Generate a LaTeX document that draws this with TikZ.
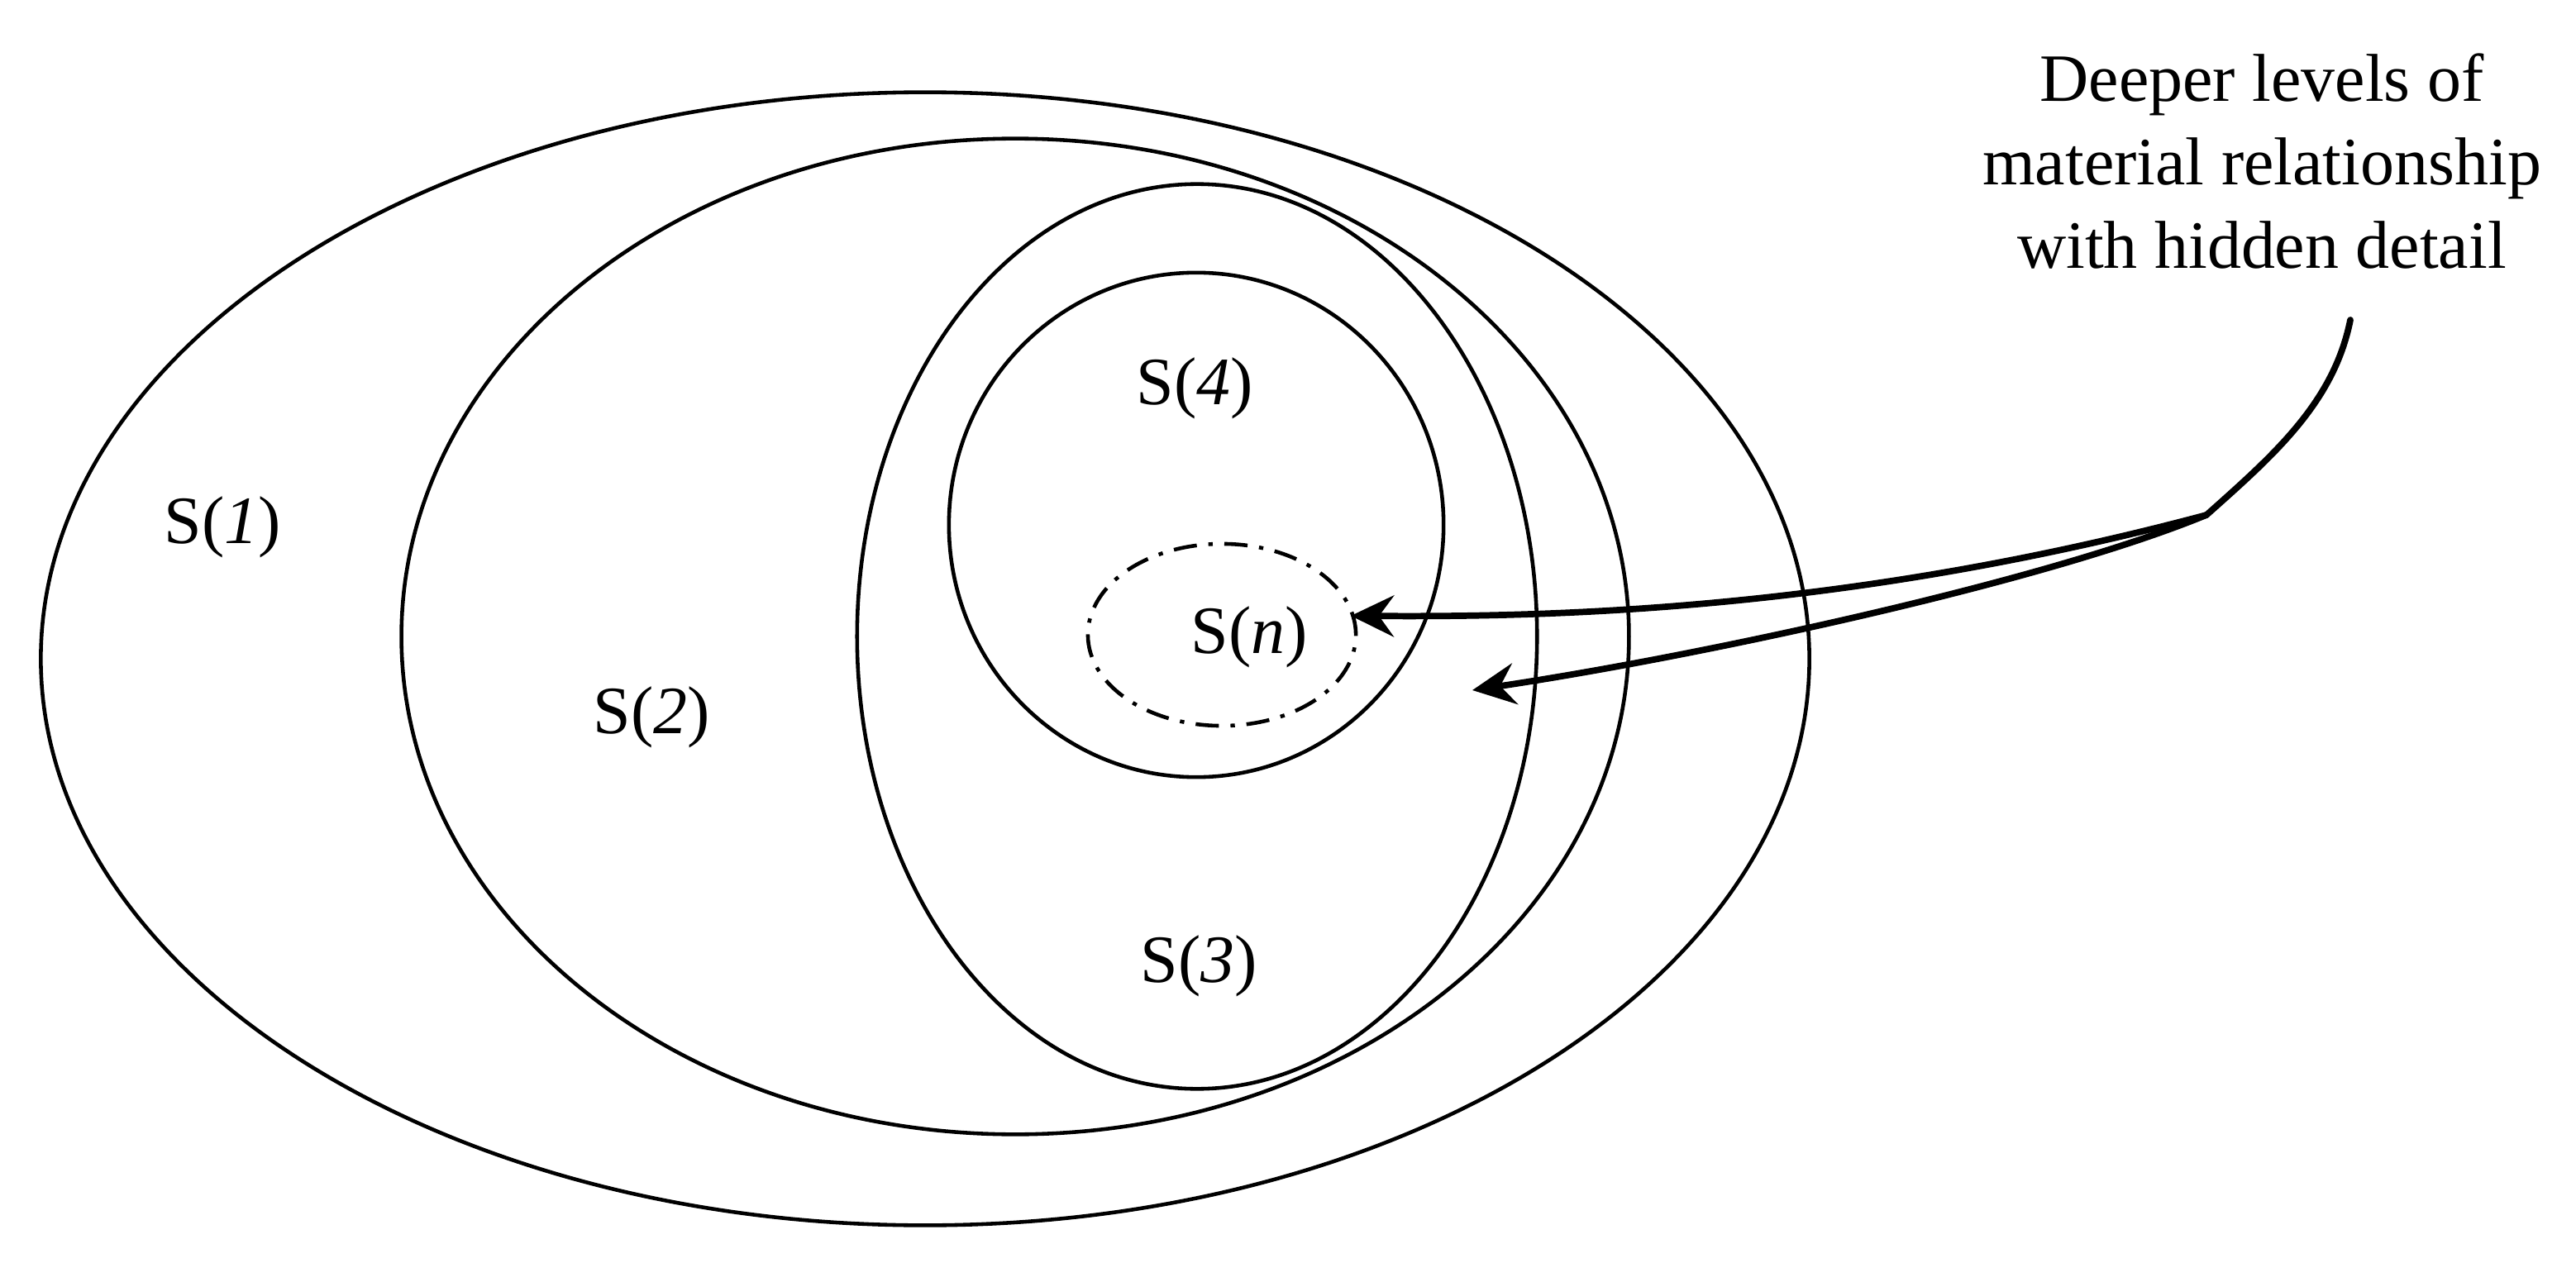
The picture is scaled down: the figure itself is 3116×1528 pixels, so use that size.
\documentclass[tikz,border=0pt]{standalone}
\usepackage{fontspec}
\setmainfont{Liberation Serif}
\newfontfamily\timesface{Liberation Serif}
\usetikzlibrary{arrows.meta}
\begin{document}
\begin{tikzpicture}[x=0.01cm,y=-0.01cm,
  setline/.style={line width=1.3pt},
  hiddenline/.style={line width=1.3pt, dash pattern=on 8pt off 4pt on 1.5pt off 4pt},
  lbl/.style={font=\timesface\fontsize{23.3}{28.7}\selectfont, inner sep=0pt, anchor=base},
  pointer/.style={line width=2.2pt, line cap=round},
  tipped/.style={-{Stealth[length=0.52cm,width=0.5cm,inset=0.18cm]}}
]
\useasboundingbox (0,0) rectangle (3116,1528);
% nested sets
\draw[setline] (1119,797) ellipse [x radius=10.69cm, y radius=6.85cm];
\draw[setline] (1228,770) ellipse [x radius=7.42cm, y radius=6.02cm];
\draw[setline] (1448,770) ellipse [x radius=4.11cm, y radius=5.47cm];
\draw[setline] (1447,635) ellipse [x radius=2.99cm, y radius=3.05cm];
\draw[hiddenline] (1478,768) ellipse [x radius=1.62cm, y radius=1.10cm];
% labels
\node[lbl] (s1) at (269,657) {S(\textit{1})};
\node[lbl] (s2) at (788,887) {S(\textit{2})};
\node[lbl] (s4) at (1445,490) {S(\textit{4})};
\node[lbl] (sn) at (1511,790) {S(\textit{n})};
\node[lbl] (s3) at (1450,1188) {S(\textit{3})};
\node[lbl, align=center, anchor=north] (note) at (2736,64) {Deeper levels of\\material relationship\\with hidden detail};
% pointer
\coordinate (start) at (2843,387);
\coordinate (fork) at (2669,623);
\coordinate (tipn) at (1634,745);
\coordinate (tipthree) at (1781,835);
\draw[pointer] (start) .. controls (2823,487) and (2751,550) .. (fork);
\draw[pointer,tipped] (fork) .. controls (2250,735) and (1900,747) .. (tipn);
\draw[pointer,tipped] (fork) .. controls (2470,705) and (2050,795) .. (tipthree);
\end{tikzpicture}
\end{document}
